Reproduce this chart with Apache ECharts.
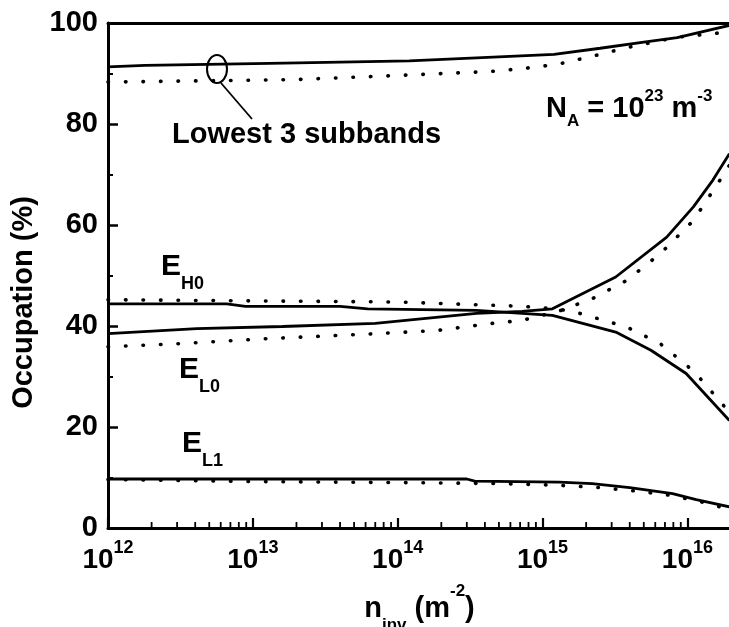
<!DOCTYPE html>
<html><head><meta charset="utf-8">
<script src="https://cdn.jsdelivr.net/npm/echarts@6/dist/echarts.min.js"></script>
<style>html,body{margin:0;padding:0;background:#fff}#c{width:729px;height:627px}</style>
</head><body><div id="c"></div>
<script>
const FONT = '"Liberation Sans", Arial, sans-serif';
const X_MIN = 1e12, X_MAX = 2e16;
const Y_MIN = 0, Y_MAX = 100, Y_STEP = 20;
const X_DECADES = [12, 13, 14, 15, 16];
const MINOR_MULT = [2, 3, 4, 5, 6, 7, 8, 9];

// [n_inv (m^-2), occupation (%)]
const lowest3Solid = [[1e12,91.3],[1.8e12,91.6],[1.3e13,92.0],[3.2e13,92.2],[1.2e14,92.5],[3.5e14,93.1],[1.2e15,93.8],[2.5e15,95.0],[5e15,96.2],[8.5e15,97.1],[2e16,99.6]];
const lowest3Dot   = [[1e12,88.3],[2e13,88.8],[1.2e14,89.7],[4.4e14,90.4],[7.4e14,91.0],[1.26e15,91.8],[2.2e15,93.4],[3.8e15,95.1],[8.5e15,97.2],[1.5e16,97.9],[2e16,98.3]];
const eH0Solid = [[1e12,44.4],[6.6e12,44.4],[8.9e12,43.9],[4e13,43.9],[6.2e13,43.4],[3.5e14,43.1],[1.17e15,42.1],[3.2e15,38.8],[5.6e15,35.2],[9.8e15,30.6],[1.95e16,21.3]];
const eL0Solid = [[1e12,38.5],[4.1e12,39.5],[1.6e13,39.9],[7e13,40.5],[3.5e14,42.5],[7.2e14,42.9],[1.17e15,43.4],[3.2e15,49.7],[7.2e15,57.6],[1.1e16,63.6],[1.5e16,68.9],[1.95e16,74.1]];
const eH0Dot = [[1e12,45.2],[1e14,44.75],[7.2e14,43.9],[1.26e15,43.4],[1.66e15,42.8],[2.2e15,41.8],[3.8e15,39.8],[6.5e15,36.5],[1.12e16,30.9],[1.86e16,23.6],[2e16,22.6]];
const eL0Dot = [[1e12,35.9],[3.1e12,36.5],[1.26e13,37.5],[6.2e13,38.4],[1.86e14,39.1],[4.4e14,40.5],[7.2e14,41.1],[9.5e14,42.0],[1.26e15,42.8],[1.66e15,44.1],[2.2e15,45.4],[3.8e15,49.0],[6.6e15,54.5],[1.1e16,60.9],[1.62e16,68.2],[1.95e16,71.8]];
const eL1Solid = [[1e12,9.7],[3e14,9.7],[3.4e14,9.3],[1.3e15,9.1],[2.2e15,8.8],[4e15,8.0],[7.9e15,6.8],[1.15e16,5.6],[1.95e16,4.2]];
const eL1Dot = [[1e12,9.6],[1e13,9.2],[1e14,9.0],[5e14,8.8],[1.2e15,8.5],[2.5e15,8.0],[4.5e15,7.3],[7.5e15,6.5],[1.2e16,5.3],[2e16,3.6]];

const minorTicks = [];
X_DECADES.forEach(d => MINOR_MULT.forEach(m => { const v = m * Math.pow(10, d); if (v < X_MAX) minorTicks.push([v, 0]); }));

const chart = echarts.init(document.getElementById('c'), null, {renderer: 'canvas'});

const solid = {color: '#000', width: 2.8};
const dotted = {color: '#000', width: 3.6, type: [0.5, 17], cap: 'round'};
function lineSeries(data, style) {
  return {type: 'line', data, showSymbol: false, symbol: 'none', lineStyle: style, silent: true, animation: false, z: 3};
}

chart.setOption({
  animation: false,
  backgroundColor: '#fff',
  grid: {left: 108, top: 23, width: 623, height: 505, containLabel: false, outerBoundsMode: 'none'},
  xAxis: [{
    type: 'log', logBase: 10, min: X_MIN, max: X_MAX,
    axisLine: {show: true, lineStyle: {color: '#000', width: 3}},
    axisTick: {show: true, inside: true, length: 10, lineStyle: {color: '#000', width: 2.2}},
    splitLine: {show: false},
    axisLabel: {
      margin: 11, color: '#000', hideOverlap: false,
      formatter: v => { const e = Math.log10(v); const r = Math.round(e); return Math.abs(e - r) < 1e-6 ? '{b|10}{s|' + r + '}' : ''; },
      rich: {
        b: {fontSize: 28, fontWeight: 'bold', fontFamily: FONT, color: '#000', lineHeight: 43},
        s: {fontSize: 18, fontWeight: 'bold', fontFamily: FONT, color: '#000', lineHeight: 18, verticalAlign: 'top'}
      }
    },
    name: '{m|n}{sub|inv}{m| (m}{sup|-2}{m|)}', nameLocation: 'middle', nameGap: 55,
    nameTextStyle: {
      rich: {
        m: {fontSize: 29, fontWeight: 'bold', fontFamily: FONT, color: '#000', lineHeight: 51},
        sub: {fontSize: 17, fontWeight: 'bold', fontFamily: FONT, color: '#000', lineHeight: 17, verticalAlign: 'bottom'},
        sup: {fontSize: 17, fontWeight: 'bold', fontFamily: FONT, color: '#000', lineHeight: 34, verticalAlign: 'top'}
      }
    }
  }, {
    type: 'value', position: 'top', min: 0, max: 1,
    axisLine: {show: true, lineStyle: {color: '#000', width: 3}},
    axisTick: {show: false}, axisLabel: {show: false}, splitLine: {show: false}
  }],
  yAxis: {
    type: 'value', min: Y_MIN, max: Y_MAX, interval: Y_STEP,
    axisLine: {show: true, lineStyle: {color: '#000', width: 3}},
    axisTick: {show: true, inside: true, length: 10, lineStyle: {color: '#000', width: 2.5}},
    minorTick: {show: true, splitNumber: 2, length: 5, lineStyle: {color: '#000', width: 2}},
    splitLine: {show: false}, minorSplitLine: {show: false},
    axisLabel: {fontSize: 29, fontWeight: 'bold', fontFamily: FONT, color: '#000', margin: 10},
    name: 'Occupation (%)', nameLocation: 'middle', nameGap: 56,
    nameTextStyle: {fontSize: 29, fontWeight: 'bold', fontFamily: FONT, color: '#000', padding: [0, 54, 0, 0]}
  },
  series: [
    lineSeries(lowest3Solid, solid), lineSeries(lowest3Dot, dotted),
    lineSeries(eH0Solid, solid), lineSeries(eH0Dot, dotted),
    lineSeries(eL0Solid, solid), lineSeries(eL0Dot, dotted),
    lineSeries(eL1Solid, solid), lineSeries(eL1Dot, dotted),
    {
      type: 'custom', data: minorTicks, encode: {x: 0, y: 1}, silent: true, clip: false, z: 4,
      renderItem: (params, api) => {
        const p = api.coord([api.value(0), 0]);
        return {type: 'line', shape: {x1: p[0], y1: p[1], x2: p[0], y2: p[1] - 6}, style: {stroke: '#000', lineWidth: 1.8}};
      }
    }
  ],
  graphic: [
    {type: 'ellipse', shape: {cx: 217, cy: 69, rx: 10, ry: 14}, style: {fill: 'none', stroke: '#000', lineWidth: 2}, z: 10},
    {type: 'line', shape: {x1: 221, y1: 83, x2: 252, y2: 119}, style: {stroke: '#000', lineWidth: 1.8}, z: 10},
    {type: 'text', x: 172, y: 135, z: 10, style: {text: 'Lowest 3 subbands', font: 'bold 29px ' + FONT, fill: '#000', align: 'left', verticalAlign: 'middle'}},
    {type: 'text', x: 546, y: 88, z: 10, style: {
      text: '{m|N}{sub|A}{m| = 10}{sup|23}{m| m}{sup|-3}', align: 'left', verticalAlign: 'top',
      rich: {
        m: {fontSize: 29, fontWeight: 'bold', fontFamily: FONT, fill: '#000', lineHeight: 42},
        sub: {fontSize: 17, fontWeight: 'bold', fontFamily: FONT, fill: '#000', lineHeight: 17, verticalAlign: 'bottom'},
        sup: {fontSize: 17, fontWeight: 'bold', fontFamily: FONT, fill: '#000', lineHeight: 17, verticalAlign: 'top'}
      }}},
    ...[['H0', 161, 240], ['L0', 179, 343], ['L1', 182, 417]].map(([s, x, y]) => ({
      type: 'text', x, y, z: 10, style: {
        text: '{e|E}{s|' + s + '}', align: 'left', verticalAlign: 'top',
        rich: {
          e: {fontSize: 30, fontWeight: 'bold', fontFamily: FONT, fill: '#000', lineHeight: 53},
          s: {fontSize: 18, fontWeight: 'bold', fontFamily: FONT, fill: '#000', lineHeight: 18, verticalAlign: 'bottom'}
        }}
    }))
  ]
});
</script></body></html>
